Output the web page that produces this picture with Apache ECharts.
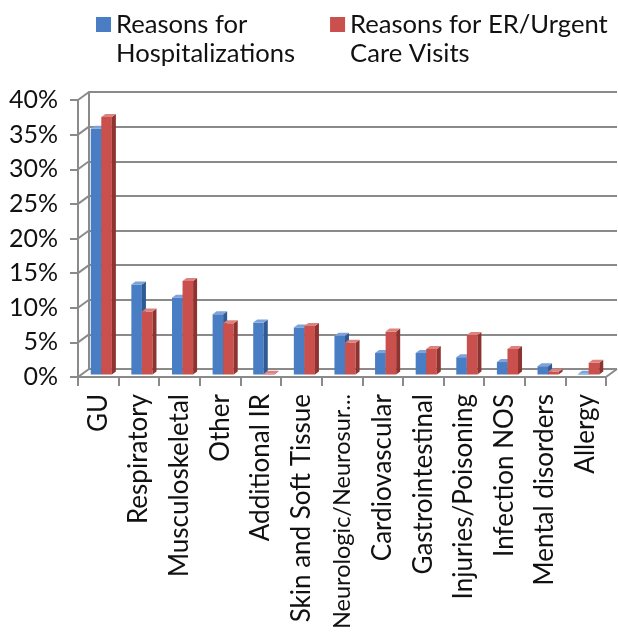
<!DOCTYPE html>
<html>
<head>
<meta charset="utf-8">
<title>Reasons for Hospitalizations and ER/Urgent Care Visits</title>
<script src="https://cdn.jsdelivr.net/npm/echarts@6/dist/echarts.min.js"></script>
<style>
  html, body { margin: 0; padding: 0; background: #fff; }
  #main { width: 618px; height: 641px; }
</style>
</head>
<body>
<div id="main"></div>
<script>
// categories (x axis)
var categories = ['GU', 'Respiratory', 'Musculoskeletal', 'Other', 'Additional IR',
    'Skin and Soft Tissue', 'Neurologic/Neurosur...', 'Cardiovascular', 'Gastrointestinal',
    'Injuries/Poisoning', 'Infection NOS', 'Mental disorders', 'Allergy'];
// percent values
var hospitalizations = [35.5, 13.0, 11.1, 8.7, 7.5, 6.8, 5.6, 3.1, 3.1, 2.5, 1.8, 1.2, 0.1];
var erVisits = [37.2, 9.1, 13.5, 7.4, 0.1, 7.0, 4.6, 6.2, 3.7, 5.7, 3.7, 0.4, 1.7];
// y axis ticks
var yTicks = [0, 5, 10, 15, 20, 25, 30, 35, 40];

var seriesNames = ['Reasons for\nHospitalizations', 'Reasons for ER/Urgent\nCare Visits'];

var FONT = 'Lato';
var GRID_COLOR = '#8a8a8a';
// fake 3D look
var DEPTH_X = 11, DEPTH_Y = 8;      // wall depth
var BAR_DX = 4, BAR_DY = 3;         // bar depth
var BAR_SHIFT_X = 3, BAR_SHIFT_Y = -2.5;

var colors = [
    { front: '#4a7ec4', side: '#2f5a93', top: '#7fa3d8' },
    { front: '#c9504c', side: '#8e3330', top: '#dc827f' }
];

function barRenderer(slot) {
    return function (params, api) {
        var idx = api.value(0), v = api.value(1);
        var base = api.coord([idx, 0]);
        var top = api.coord([idx, v]);
        var band = api.size([1, 0])[0];
        var w = band * 0.26;
        var x0 = base[0] + BAR_SHIFT_X - w + slot * w;
        var by = base[1] + BAR_SHIFT_Y;
        var ty = top[1] + BAR_SHIFT_Y;
        var c = colors[slot];
        return {
            type: 'group',
            children: [
                { type: 'rect', shape: { x: x0, y: ty, width: w, height: by - ty }, style: { fill: c.front } },
                { type: 'polygon', shape: { points: [[x0 + w, ty], [x0 + w + BAR_DX, ty - BAR_DY], [x0 + w + BAR_DX, by - BAR_DY], [x0 + w, by]] }, style: { fill: c.side } },
                { type: 'polygon', shape: { points: [[x0, ty], [x0 + BAR_DX, ty - BAR_DY], [x0 + w + BAR_DX, ty - BAR_DY], [x0 + w, ty]] }, style: { fill: c.top } }
            ]
        };
    };
}

// slanted lines of the left wall, one per tick
function wallEdge(params, api) {
    var p = api.coord([0, api.value(1)]);
    var band = api.size([1, 0])[0];
    var x = p[0] - band / 2;
    return { type: 'line', shape: { x1: x, y1: p[1], x2: x + DEPTH_X, y2: p[1] - DEPTH_Y }, style: { stroke: GRID_COLOR, lineWidth: 2 } };
}
// right corner of the floor
function floorEdge(params, api) {
    var p = api.coord([api.value(0), 0]);
    var band = api.size([1, 0])[0];
    var x = p[0] + band / 2;
    return { type: 'line', shape: { x1: x, y1: p[1], x2: x + DEPTH_X, y2: p[1] - DEPTH_Y }, style: { stroke: GRID_COLOR, lineWidth: 2 } };
}

var myChart = echarts.init(document.getElementById('main'));
myChart.setOption({
    animation: false,
    textStyle: { fontFamily: FONT },
    legend: {
        left: 91,
        top: -24,
        icon: 'rect',
        itemWidth: 15,
        itemHeight: 15,
        itemGap: 35,
        data: seriesNames,
        // empty first line so the marker sits next to the first text line
        formatter: function (name) { return '\n' + name; },
        textStyle: { fontFamily: FONT, fontSize: 25.6, lineHeight: 29, color: '#111' }
    },
    grid: [
        { left: 78, right: 12, top: 100, bottom: 264, outerBoundsMode: 'none' },   // front plane
        { left: 89, right: 1, top: 92, bottom: 272, outerBoundsMode: 'none' }      // back wall
    ],
    xAxis: [
        {
            type: 'category', gridIndex: 0, data: categories,
            axisLine: { lineStyle: { color: GRID_COLOR, width: 2 } },
            axisTick: { show: true, length: 9, lineStyle: { color: GRID_COLOR, width: 2 } },
            axisLabel: {
                rotate: 90, interval: 0, margin: 17, fontFamily: FONT, fontSize: 26, color: '#111',
                // the cut-off long name is a bit smaller so it fits like in the original
                formatter: function (v) { return v.indexOf('...') >= 0 ? '{s|' + v + '}' : v; },
                rich: { s: { fontFamily: FONT, fontSize: 23.5, color: '#111' } }
            },
            splitLine: { show: false }
        },
        {
            type: 'category', gridIndex: 1, data: categories,
            axisLine: { show: false }, axisTick: { show: false }, axisLabel: { show: false }
        }
    ],
    yAxis: [
        {
            type: 'value', gridIndex: 0, min: 0, max: 40, interval: 5,
            axisLine: { show: true, lineStyle: { color: GRID_COLOR, width: 2 } },
            axisTick: { show: true, length: 8, lineStyle: { color: GRID_COLOR, width: 2 } },
            axisLabel: { formatter: '{value}%', margin: 20, fontFamily: FONT, fontSize: 25, color: '#111' },
            splitLine: { show: false }
        },
        {
            type: 'value', gridIndex: 1, min: 0, max: 40, interval: 5,
            axisLine: { show: true, lineStyle: { color: GRID_COLOR, width: 2 } },
            axisTick: { show: false }, axisLabel: { show: false },
            splitLine: { show: true, lineStyle: { color: GRID_COLOR, width: 2 } }
        }
    ],
    series: [
        {
            type: 'custom', name: 'wall', xAxisIndex: 0, yAxisIndex: 0, silent: true,
            renderItem: wallEdge,
            data: yTicks.map(function (v) { return [0, v]; })
        },
        {
            type: 'custom', name: 'floor', xAxisIndex: 0, yAxisIndex: 0, silent: true,
            renderItem: floorEdge,
            data: [[categories.length - 1, 0]]
        },
        {
            type: 'custom', name: seriesNames[0], xAxisIndex: 0, yAxisIndex: 0,
            itemStyle: { color: colors[0].front },
            renderItem: barRenderer(0),
            data: hospitalizations.map(function (v, i) { return [i, v]; })
        },
        {
            type: 'custom', name: seriesNames[1], xAxisIndex: 0, yAxisIndex: 0,
            itemStyle: { color: colors[1].front },
            renderItem: barRenderer(1),
            data: erVisits.map(function (v, i) { return [i, v]; })
        }
    ]
});
</script>
</body>
</html>
